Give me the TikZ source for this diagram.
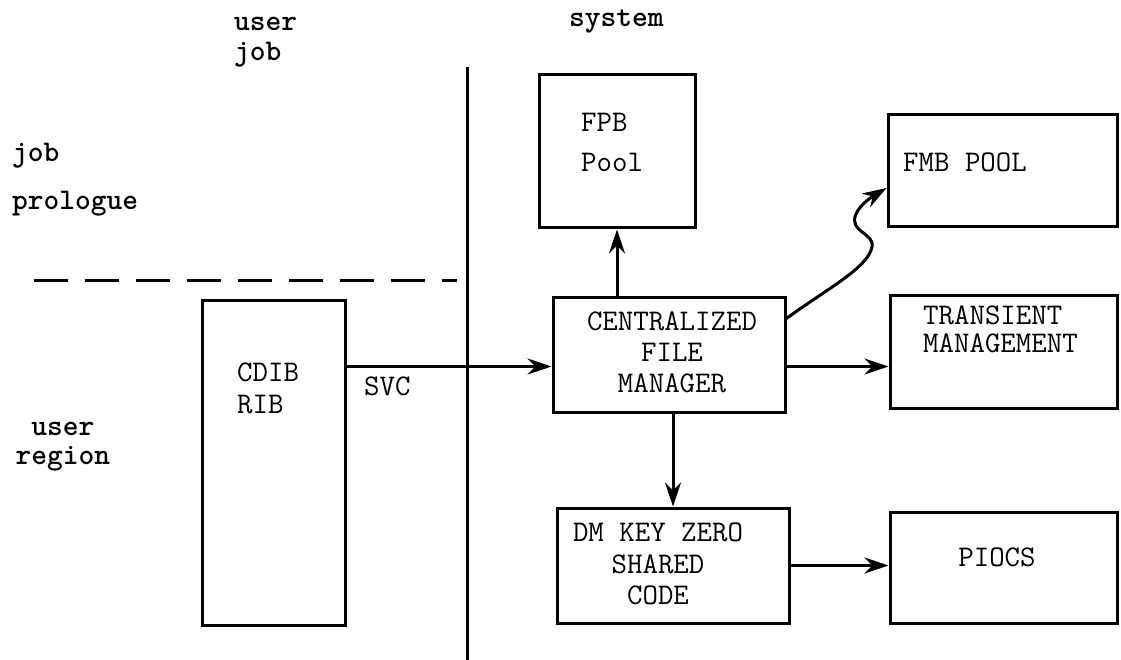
\documentclass[tikz,border=0pt]{standalone}
\usetikzlibrary{arrows.meta,positioning}

\tikzset{
  box/.style={rectangle,draw=black,line width=3pt,inner sep=0pt},
  lbl/.style={inner sep=0pt,anchor=north west,align=left},
  side/.style={lbl,font=\ttfamily\bfseries\fontsize{30}{30}\selectfont},
  arr/.style={line width=3pt,-{Stealth[length=24pt,width=16pt,inset=8pt]}},
}

\begin{document}
\begin{tikzpicture}[x=1pt,y=-1pt]
\useasboundingbox (0,0) rectangle (1121,660);
\coordinate (divtop) at (467,67);
\coordinate (divbot) at (467,660);
\coordinate (dashl) at (34,280);
\coordinate (dashr) at (457,280);
\draw[line width=3pt] (divtop) -- (divbot);
\draw[line width=3pt,dash pattern=on 34pt off 17pt] (dashl) -- (dashr);

\node[side](userjob) at (234,17){user\\job};
\node[side](system) at (569,10){system};
\node[side,font=\ttfamily\bfseries\fontsize{30}{48}\selectfont](jobpro) at (12,143){job\\prologue};
\node[side,anchor=north,align=center,font=\ttfamily\bfseries\fontsize{30}{29}\selectfont](userreg) at (63,422){user\\region};

\node[box,minimum width=156pt,minimum height=153pt](fpb) at (617,151.5){};
\node[box,minimum width=229pt,minimum height=112pt](fmb) at (1002.5,171){};
\node[box,minimum width=232pt,minimum height=115pt](cfm) at (669,354.5){};
\node[box,minimum width=227pt,minimum height=113pt](tm) at (1003.5,351.5){};
\node[box,minimum width=232pt,minimum height=115pt](dmkz) at (673,565.5){};
\node[box,minimum width=227pt,minimum height=111pt](piocs) at (1003.5,567.5){};
\node[box,minimum width=143pt,minimum height=325pt](cdib) at (273.5,462.5){};

\node[lbl,font=\ttfamily\fontsize{30}{40}\selectfont](fpbtxt) at (581,113){FPB\\Pool};
\node[lbl,font=\ttfamily\fontsize{30}{30}\selectfont](fmbtxt) at (903,153){FMB POOL};
\node[lbl,anchor=north,align=center,font=\ttfamily\fontsize{30}{31}\selectfont](cfmtxt) at (672,312){CENTRALIZED\\FILE\\MANAGER};
\node[lbl,font=\ttfamily\fontsize{30}{28}\selectfont](tmtxt) at (923,306){TRANSIENT\\MANAGEMENT};
\node[lbl,anchor=north,align=center,font=\ttfamily\fontsize{30}{31.5}\selectfont](dmtxt) at (658,523){DM KEY ZERO\\SHARED\\CODE};
\node[lbl,anchor=north,font=\ttfamily\fontsize{30}{30}\selectfont](piocstxt) at (997,548){PIOCS};
\node[lbl,font=\ttfamily\fontsize{30}{32}\selectfont](cdibtxt) at (237,363){CDIB\\RIB};
\node[lbl,font=\ttfamily\fontsize{30}{30}\selectfont](svc) at (364,377){SVC};

\draw[arr] ([yshift=96pt]cdib.east) -- ([yshift=-12pt]cfm.west);
\draw[arr] (fpb.south |- cfm.north) -- (fpb.south);
\draw[arr] ([yshift=-12pt]cfm.east) -- ([yshift=-12pt]cfm.east -| tm.west);
\draw[arr] (dmkz.north |- cfm.south) -- (dmkz.north);
\draw[arr] (dmkz.east) -- (dmkz.east -| piocs.west);
\draw[arr] ([yshift=36pt]cfm.east) .. controls (825,290) and (868,268) .. (872,247)
  .. controls (875,233) and (848,232) .. (856,214)
  .. controls (860,205) and (870,198) .. ([yshift=-17pt]fmb.west);
\end{tikzpicture}
\end{document}
